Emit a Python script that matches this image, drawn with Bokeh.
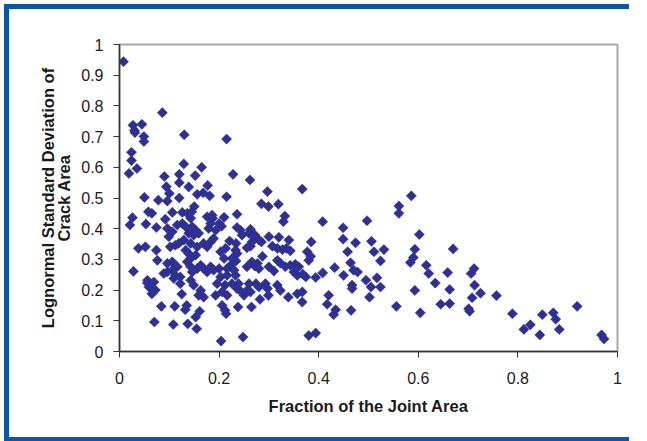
from bokeh.plotting import figure
from bokeh.models import FixedTicker, ColumnDataSource
from bokeh.embed import file_html
from bokeh.resources import INLINE
import math

# ---- data ----
joint_fraction = [
    0.008, 0.086, 0.027, 0.045, 0.030, 0.031, 0.049, 0.049, 0.130, 0.024,
    0.024, 0.035, 0.019, 0.129, 0.165, 0.090, 0.120, 0.152, 0.120, 0.094,
    0.139, 0.177, 0.100, 0.156, 0.168, 0.181, 0.050, 0.078, 0.120, 0.215,
    0.228, 0.262, 0.297, 0.215, 0.367, 0.096, 0.058, 0.065, 0.026, 0.021,
    0.053, 0.074, 0.092, 0.106, 0.126, 0.145, 0.150, 0.187, 0.038, 0.052,
    0.074, 0.076, 0.028, 0.056, 0.072, 0.065, 0.125, 0.084, 0.111, 0.135,
    0.132, 0.161, 0.153, 0.070, 0.108, 0.137, 0.155, 0.204,
    0.285, 0.299, 0.319, 0.236, 0.332, 0.329, 0.408, 0.210, 0.200, 0.205,
    0.236, 0.243, 0.246, 0.263, 0.272, 0.300, 0.320, 0.340, 0.385, 0.221,
    0.234, 0.285, 0.263, 0.256, 0.307, 0.317, 0.327, 0.335, 0.343, 0.213,
    0.210, 0.216, 0.236, 0.287, 0.377, 0.384, 0.380, 0.226, 0.234, 0.266,
    0.272, 0.277, 0.280, 0.300, 0.310, 0.317, 0.323, 0.333, 0.343, 0.353,
    0.360, 0.350, 0.357, 0.368, 0.374, 0.394, 0.408, 0.200, 0.203, 0.196,
    0.212, 0.206, 0.233, 0.226, 0.239, 0.243, 0.236, 0.260, 0.256, 0.263,
    0.274, 0.280, 0.293, 0.297, 0.299, 0.317, 0.323, 0.282, 0.265, 0.238,
    0.339, 0.357, 0.367, 0.367, 0.206, 0.212, 0.214, 0.248, 0.380, 0.394,
    0.586, 0.561, 0.561, 0.497, 0.449, 0.449, 0.474, 0.506, 0.458, 0.511,
    0.531, 0.602, 0.593, 0.590, 0.584, 0.524, 0.616, 0.621, 0.432, 0.450,
    0.464, 0.470, 0.478, 0.495, 0.517, 0.467, 0.467, 0.505, 0.524, 0.593,
    0.420, 0.417, 0.502, 0.434, 0.430, 0.465, 0.556, 0.604,
    0.670, 0.659, 0.712, 0.706, 0.663, 0.713, 0.725, 0.708, 0.757, 0.645,
    0.663, 0.701, 0.703, 0.789, 0.919, 0.849, 0.871, 0.876, 0.812, 0.825,
    0.844, 0.883, 0.968, 0.973, 0.634,
    0.136, 0.143, 0.096, 0.106, 0.099, 0.116, 0.126, 0.133, 0.146, 0.153,
    0.159, 0.139, 0.149, 0.176, 0.186, 0.183, 0.179, 0.193, 0.260, 0.270,
    0.280, 0.266, 0.102, 0.112, 0.119, 0.129, 0.143, 0.156, 0.169, 0.176,
    0.183, 0.189, 0.133, 0.139, 0.143, 0.153, 0.203, 0.233, 0.096, 0.106,
    0.116, 0.106, 0.096, 0.089, 0.112, 0.122, 0.136, 0.143, 0.146, 0.156,
    0.163, 0.169, 0.176, 0.183, 0.189, 0.223, 0.230, 0.216, 0.256, 0.056,
    0.069, 0.059, 0.109, 0.122, 0.143, 0.149, 0.163, 0.159, 0.169, 0.193,
    0.216, 0.250,
]
lognormal_sd = [
    0.944, 0.778, 0.737, 0.740, 0.720, 0.713, 0.700, 0.684, 0.706, 0.649,
    0.622, 0.596, 0.580, 0.611, 0.600, 0.570, 0.577, 0.573, 0.550, 0.537,
    0.536, 0.541, 0.515, 0.512, 0.517, 0.507, 0.502, 0.493, 0.500, 0.692,
    0.577, 0.559, 0.521, 0.504, 0.529, 0.490, 0.455, 0.450, 0.436, 0.412,
    0.415, 0.404, 0.431, 0.453, 0.453, 0.455, 0.472, 0.434, 0.336, 0.341,
    0.330, 0.297, 0.261, 0.223, 0.200, 0.188, 0.187, 0.147, 0.147, 0.150,
    0.136, 0.131, 0.112, 0.096, 0.088, 0.090, 0.074, 0.034,
    0.481, 0.472, 0.480, 0.447, 0.441, 0.423, 0.423, 0.437, 0.417, 0.408,
    0.404, 0.395, 0.379, 0.398, 0.379, 0.374, 0.372, 0.363, 0.357, 0.360,
    0.352, 0.357, 0.343, 0.338, 0.343, 0.336, 0.332, 0.336, 0.328, 0.336,
    0.303, 0.270, 0.319, 0.310, 0.325, 0.310, 0.297, 0.303, 0.295, 0.292,
    0.278, 0.287, 0.270, 0.276, 0.262, 0.297, 0.288, 0.276, 0.281, 0.284,
    0.276, 0.259, 0.248, 0.252, 0.243, 0.241, 0.256, 0.270, 0.243, 0.221,
    0.216, 0.194, 0.248, 0.221, 0.221, 0.197, 0.205, 0.221, 0.199, 0.194,
    0.221, 0.210, 0.221, 0.205, 0.183, 0.216, 0.199, 0.170, 0.145, 0.145,
    0.177, 0.188, 0.194, 0.161, 0.150, 0.134, 0.123, 0.047, 0.052, 0.060,
    0.507, 0.474, 0.450, 0.426, 0.403, 0.366, 0.354, 0.359, 0.325, 0.325,
    0.332, 0.381, 0.333, 0.306, 0.290, 0.295, 0.281, 0.254, 0.273, 0.248,
    0.289, 0.265, 0.259, 0.232, 0.240, 0.216, 0.205, 0.210, 0.210, 0.199,
    0.183, 0.154, 0.177, 0.136, 0.120, 0.134, 0.147, 0.126,
    0.334, 0.257, 0.270, 0.254, 0.202, 0.216, 0.190, 0.175, 0.182, 0.154,
    0.156, 0.139, 0.131, 0.123, 0.147, 0.120, 0.126, 0.105, 0.072, 0.087,
    0.054, 0.072, 0.054, 0.041, 0.223,
    0.450, 0.434, 0.401, 0.390, 0.374, 0.412, 0.417, 0.406, 0.406, 0.395,
    0.385, 0.385, 0.379, 0.439, 0.444, 0.417, 0.401, 0.395, 0.385, 0.374,
    0.363, 0.357, 0.341, 0.346, 0.352, 0.363, 0.352, 0.341, 0.352, 0.341,
    0.357, 0.368, 0.330, 0.319, 0.303, 0.314, 0.325, 0.330, 0.287, 0.292,
    0.276, 0.265, 0.259, 0.254, 0.248, 0.243, 0.292, 0.276, 0.259, 0.270,
    0.281, 0.270, 0.259, 0.276, 0.265, 0.281, 0.265, 0.248, 0.276, 0.232,
    0.226, 0.210, 0.238, 0.221, 0.232, 0.216, 0.199, 0.183, 0.177, 0.183,
    0.183, 0.183,
]

x_ticks = [0, 0.2, 0.4, 0.6, 0.8, 1.0]
x_tick_labels = ["0", "0.2", "0.4", "0.6", "0.8", "1"]
y_ticks = [0, 0.1, 0.2, 0.3, 0.4, 0.5, 0.6, 0.7, 0.8, 0.9, 1.0]
y_tick_labels = ["0", "0.1", "0.2", "0.3", "0.4", "0.5", "0.6", "0.7", "0.8", "0.9", "1"]

x_title = "Fraction of the Joint Area"
y_title = "Lognormal Standard Deviation of\nCrack Area"

# ---- figure (host offset to 4,4; blue frame painted as inset shadows) ----
W, H = 630, 437
p = figure(width=W, height=H, output_backend="svg", toolbar_location=None,
           x_range=(0, 1), y_range=(0, 1),
           min_border_left=115, min_border_right=W - 115 - 498,
           min_border_top=40, min_border_bottom=H - 40 - 307)
blue = "#0A56A8"
p.styles = {"margin-left": "4px", "margin-top": "4px",
            "background-color": "white",
            "clip-path": "inset(0px 5px 0px 0px)",
            "box-shadow": f"inset 5px 0 0 0 {blue}, inset 0 5px 0 0 {blue}, inset 0 -4px 0 0 {blue}"}
p.background_fill_color = "white"
p.border_fill_alpha = 0.0
p.xgrid.visible = False
p.ygrid.visible = False
p.outline_line_color = "#A8A8A8"
p.outline_line_width = 2

src = ColumnDataSource(dict(x=joint_fraction, y=lognormal_sd))
p.scatter("x", "y", source=src, marker="square", size=7.2, angle=math.pi / 4,
          fill_color="#2E3192", line_color="#2E3192", line_width=0.5)

font = "Liberation Sans"
for ax, ticks, labels in ((p.xaxis, x_ticks, x_tick_labels), (p.yaxis, y_ticks, y_tick_labels)):
    ax.ticker = FixedTicker(ticks=ticks)
    ax.major_label_overrides = {t: l for t, l in zip(ticks, labels)}
    ax.minor_tick_line_color = None
    ax.major_tick_in = 0
    ax.major_tick_out = 6
    ax.major_tick_line_color = "#333333"
    ax.axis_line_color = "#333333"
    ax.axis_line_width = 1.5
    ax.major_label_text_font = font
    ax.major_label_text_font_size = "16px"
    ax.major_label_text_color = "#1a1a1a"
    ax.axis_label_text_font = font
    ax.axis_label_text_font_style = "bold"
    ax.axis_label_text_font_size = "16.5px"
    ax.axis_label_text_color = "#1a1a1a"

p.xaxis.axis_label = x_title
p.yaxis.axis_label = y_title
p.xaxis.major_label_standoff = 14
p.yaxis.major_label_standoff = 10
p.xaxis.axis_label_standoff = 10
p.yaxis.axis_label_standoff = 5
p.yaxis.axis_label_text_line_height = 0.9

open("out.html", "w").write(file_html(p, INLINE))
